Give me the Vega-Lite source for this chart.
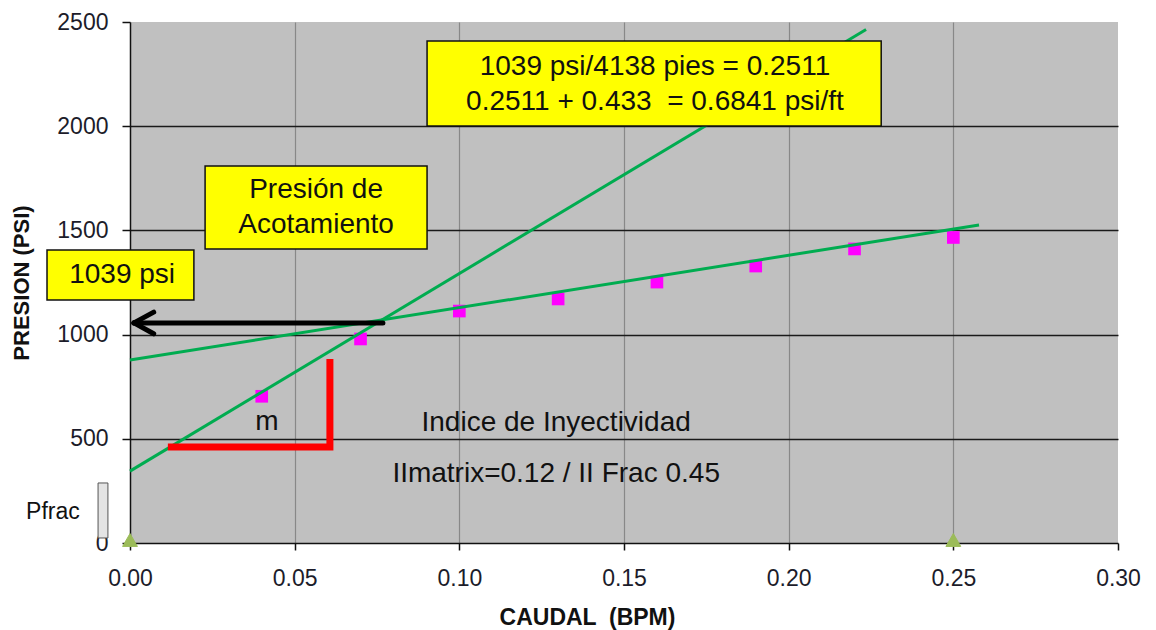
{
  "$schema": "https://vega.github.io/schema/vega-lite/v6.json",
  "width": 988,
  "height": 521,
  "autosize": {"type": "none"},
  "padding": {"left": 130, "top": 22, "right": 38, "bottom": 87},
  "background": "white",
  "config": {
    "view": {"fill": "#c0c0c0", "stroke": null},
    "font": "Liberation Sans",
    "axisX": {
      "labelFont": "Liberation Sans",
      "labelFontSize": 23,
      "labelColor": "#1c1c2a",
      "labelPadding": 17,
      "labelFlush": false,
      "tickSize": 7,
      "tickColor": "#111",
      "tickWidth": 1.5,
      "domainColor": "#111",
      "domainWidth": 1.5,
      "grid": true,
      "gridColor": {"condition": {"test": "datum.value >= 0.29 || datum.value <= 0.001", "value": "transparent"}, "value": "#888888"},
      "gridWidth": 1.2,
      "titleFont": "Liberation Sans",
      "titleFontSize": 23,
      "titleFontWeight": "bold",
      "titleColor": "#111",
      "titlePadding": 16,
      "titleX": 457
    },
    "axisY": {
      "labelFont": "Liberation Sans",
      "labelFontSize": 23,
      "labelColor": "#1c1c2a",
      "labelPadding": 14,
      "labelFlush": false,
      "tickSize": 8,
      "tickColor": "#111",
      "tickWidth": 1.5,
      "domainColor": "#111",
      "domainWidth": 1.5,
      "grid": true,
      "gridColor": {"condition": {"test": "datum.value >= 2400 || datum.value <= 1", "value": "transparent"}, "value": "#1a1a1a"},
      "gridWidth": 1.5,
      "titleFont": "Liberation Sans",
      "titleFontSize": 22,
      "titleFontWeight": "bold",
      "titleColor": "#111",
      "titlePadding": 23
    }
  },
  "datasets": {
    "presion": [
      {"caudal": 0.04, "presion": 704},
      {"caudal": 0.07, "presion": 979},
      {"caudal": 0.10, "presion": 1113},
      {"caudal": 0.13, "presion": 1171},
      {"caudal": 0.16, "presion": 1252},
      {"caudal": 0.19, "presion": 1329},
      {"caudal": 0.22, "presion": 1411},
      {"caudal": 0.25, "presion": 1466}
    ],
    "pfrac": [
      {"caudal": 0.0, "presion": 0},
      {"caudal": 0.25, "presion": 0}
    ],
    "tendencias": [
      {"linea": "matriz", "caudal": 0.0, "presion": 878},
      {"linea": "matriz", "caudal": 0.2578, "presion": 1526},
      {"linea": "fractura", "caudal": 0.0, "presion": 345},
      {"linea": "fractura", "caudal": 0.2235, "presion": 2464}
    ],
    "pendiente": [
      {"orden": 1, "caudal": 0.0115, "presion": 461},
      {"orden": 2, "caudal": 0.0607, "presion": 461},
      {"orden": 3, "caudal": 0.0607, "presion": 883}
    ],
    "flecha": [
      {"caudal": 0.0768, "presion": 1056, "caudal2": 0.0012, "presion2": 1056},
      {"caudal": 0.0012, "presion": 1056, "caudal2": 0.0072, "presion2": 1108},
      {"caudal": 0.0012, "presion": 1056, "caudal2": 0.0072, "presion2": 1004}
    ],
    "cajas": [
      {"caudal": 0.0902, "caudal2": 0.2281, "presion": 2409, "presion2": 2001},
      {"caudal": 0.0228, "caudal2": 0.0902, "presion": 1809, "presion2": 1411},
      {"caudal": -0.0252, "caudal2": 0.0194, "presion": 1406, "presion2": 1166}
    ],
    "leyenda": [
      {"caudal": -0.0097, "caudal2": -0.0067, "presion": 288, "presion2": 24}
    ],
    "textos": [
      {"caudal": 0.1594, "presion": 2284, "texto": "1039 psi/4138 pies = 0.2511"},
      {"caudal": 0.1594, "presion": 2116, "texto": "0.2511 + 0.433 \u00a0= 0.6841 psi/ft"},
      {"caudal": 0.0565, "presion": 1694, "texto": "Presión de"},
      {"caudal": 0.0565, "presion": 1526, "texto": "Acotamiento"},
      {"caudal": -0.0024, "presion": 1286, "texto": "1039 psi"},
      {"caudal": 0.0416, "presion": 581, "texto": "m"},
      {"caudal": 0.1294, "presion": 576, "texto": "Indice de Inyectividad"},
      {"caudal": 0.1294, "presion": 331, "texto": "IImatrix=0.12 / II Frac 0.45"}
    ],
    "textoPfrac": [
      {"caudal": -0.0234, "presion": 149, "texto": "Pfrac"}
    ]
  },
  "layer": [
    {
      "data": {"name": "presion"},
      "mark": {"type": "point", "shape": "square", "filled": true, "color": "#ff00ff", "size": 160, "opacity": 1},
      "encoding": {
        "x": {"field": "caudal", "type": "quantitative", "title": "CAUDAL \u00a0(BPM)", "scale": {"domain": [0, 0.3], "nice": false, "zero": false},
              "axis": {"values": [0, 0.05, 0.1, 0.15, 0.2, 0.25, 0.3], "format": ".2f"}},
        "y": {"field": "presion", "type": "quantitative", "title": "PRESION (PSI)", "scale": {"domain": [0, 2500], "nice": false, "zero": false},
              "axis": {"values": [0, 500, 1000, 1500, 2000, 2500], "format": "d"}}
      }
    },
    {
      "data": {"name": "tendencias"},
      "mark": {"type": "line", "color": "#00ac50", "strokeWidth": 3},
      "encoding": {
        "x": {"field": "caudal", "type": "quantitative", "scale": {"domain": [0, 0.3], "nice": false, "zero": false}},
        "y": {"field": "presion", "type": "quantitative", "scale": {"domain": [0, 2500], "nice": false, "zero": false}},
        "detail": {"field": "linea"}
      }
    },
    {
      "data": {"name": "pendiente"},
      "mark": {"type": "line", "color": "#ff0000", "strokeWidth": 7, "strokeJoin": "miter", "strokeCap": "butt"},
      "encoding": {
        "x": {"field": "caudal", "type": "quantitative", "scale": {"domain": [0, 0.3], "nice": false, "zero": false}},
        "y": {"field": "presion", "type": "quantitative", "scale": {"domain": [0, 2500], "nice": false, "zero": false}},
        "order": {"field": "orden"}
      }
    },
    {
      "data": {"name": "flecha"},
      "mark": {"type": "rule", "color": "#000000", "strokeWidth": 5, "strokeCap": "round"},
      "encoding": {
        "x": {"field": "caudal", "type": "quantitative", "scale": {"domain": [0, 0.3], "nice": false, "zero": false}},
        "y": {"field": "presion", "type": "quantitative", "scale": {"domain": [0, 2500], "nice": false, "zero": false}},
        "x2": {"field": "caudal2"},
        "y2": {"field": "presion2"}
      }
    },
    {
      "data": {"name": "pfrac"},
      "mark": {"type": "point", "shape": "triangle-up", "filled": true, "fill": "#9bbb59", "stroke": "#9bbb59", "strokeWidth": 1, "size": 220, "opacity": 1, "yOffset": -3},
      "encoding": {
        "x": {"field": "caudal", "type": "quantitative", "scale": {"domain": [0, 0.3], "nice": false, "zero": false}},
        "y": {"field": "presion", "type": "quantitative", "scale": {"domain": [0, 2500], "nice": false, "zero": false}}
      }
    },
    {
      "data": {"name": "cajas"},
      "mark": {"type": "rect", "fill": "#ffff00", "stroke": "#111111", "strokeWidth": 1.5},
      "encoding": {
        "x": {"field": "caudal", "type": "quantitative", "scale": {"domain": [0, 0.3], "nice": false, "zero": false}},
        "y": {"field": "presion", "type": "quantitative", "scale": {"domain": [0, 2500], "nice": false, "zero": false}},
        "x2": {"field": "caudal2"},
        "y2": {"field": "presion2"}
      }
    },
    {
      "data": {"name": "leyenda"},
      "mark": {"type": "rect", "fill": "#e4e4e4", "stroke": "#555555", "strokeWidth": 1},
      "encoding": {
        "x": {"field": "caudal", "type": "quantitative", "scale": {"domain": [0, 0.3], "nice": false, "zero": false}},
        "y": {"field": "presion", "type": "quantitative", "scale": {"domain": [0, 2500], "nice": false, "zero": false}},
        "x2": {"field": "caudal2"},
        "y2": {"field": "presion2"}
      }
    },
    {
      "data": {"name": "textos"},
      "mark": {"type": "text", "font": "Liberation Sans", "fontSize": 28, "color": "#111111", "align": "center", "baseline": "middle"},
      "encoding": {
        "x": {"field": "caudal", "type": "quantitative", "scale": {"domain": [0, 0.3], "nice": false, "zero": false}},
        "y": {"field": "presion", "type": "quantitative", "scale": {"domain": [0, 2500], "nice": false, "zero": false}},
        "text": {"field": "texto"}
      }
    },
    {
      "data": {"name": "textoPfrac"},
      "mark": {"type": "text", "font": "Liberation Sans", "fontSize": 23, "color": "#111111", "align": "center", "baseline": "middle"},
      "encoding": {
        "x": {"field": "caudal", "type": "quantitative", "scale": {"domain": [0, 0.3], "nice": false, "zero": false}},
        "y": {"field": "presion", "type": "quantitative", "scale": {"domain": [0, 2500], "nice": false, "zero": false}},
        "text": {"field": "texto"}
      }
    }
  ]
}
